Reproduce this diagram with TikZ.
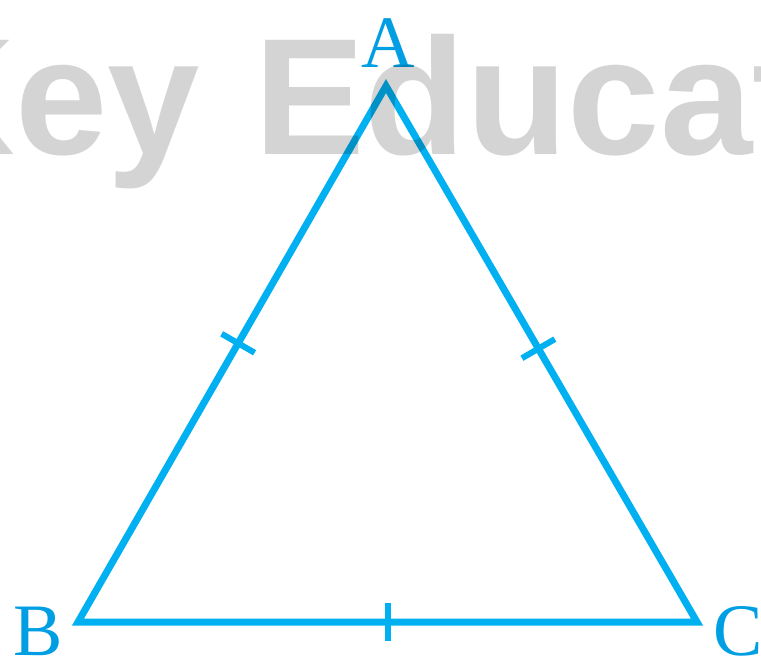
\documentclass[tikz,border=0pt]{standalone}
\usepackage{fontspec}
\usetikzlibrary{calc}
\setmainfont{Liberation Serif}
\newfontfamily\wmfont{Liberation Sans}
\definecolor{tri}{RGB}{0,176,240}
\definecolor{lab}{RGB}{0,158,226}
\begin{document}
\begin{tikzpicture}[x=1pt,y=-1pt,
  side/.style={draw=tri,line width=7pt,line join=miter},
  tick/.style={draw=tri,line width=6pt},
  vlabel/.style={text=lab,font=\fontsize{74}{74}\selectfont,inner sep=0pt},
  wmark/.style={text=black,text opacity=0.17,font=\wmfont\bfseries\fontsize{166}{166}\selectfont,inner sep=0pt}]
\useasboundingbox (0,0) rectangle (761,657);
\coordinate (A) at (386,86);
\coordinate (B) at (78,622);
\coordinate (C) at (697,622);
\draw[side] (A) -- (B) -- (C) -- cycle;
% tick marks
\coordinate (mAB) at ($(B)!0.52!(A)$);
\coordinate (mAC) at ($(C)!0.51!(A)$);
\coordinate (mBC) at ($(B)!0.5!(C)$);
\draw[tick] ($(mAB)!19pt!90:(A)$) -- ($(mAB)!19pt!-90:(A)$);
\draw[tick] ($(mAC)!19pt!90:(A)$) -- ($(mAC)!19pt!-90:(A)$);
\draw[tick] ($(mBC)!19pt!90:(C)$) -- ($(mBC)!19pt!-90:(C)$);
% labels
\node[vlabel,anchor=base] (lA) at (388,67) {A};
\node[vlabel,anchor=base west] (lB) at (13,655) {B};
\node[vlabel,anchor=base west] (lC) at (713,655) {C};
% watermark
\node[wmark,anchor=base east] (wm1) at (200,154) {Key};
\node[wmark,anchor=base west] (wm2) at (254,154) {Educat};
\end{tikzpicture}
\end{document}
